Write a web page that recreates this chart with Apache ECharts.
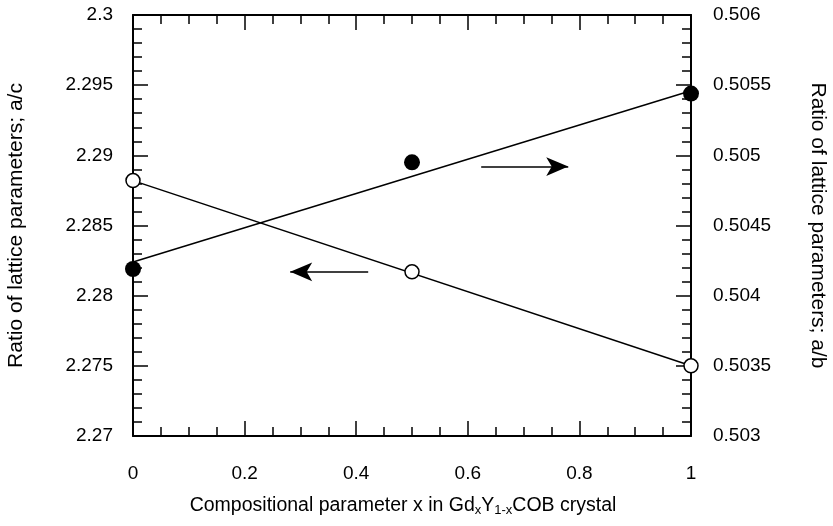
<!DOCTYPE html>
<html lang="en">
<head>
<meta charset="UTF-8">
<script src="https://cdn.jsdelivr.net/npm/echarts@6/dist/echarts.min.js"></script>
<title>Ratio of lattice parameters</title>
<style>
  *{margin:0;padding:0}
  html,body{width:100%;height:100%;background:#fff}
</style>
</head>
<body>
<div id="main" style="width:833px;height:526px"></div>
<script type="text/javascript">
// data
var xValues = [0, 0.5, 1];
var ratioAC = [2.2882, 2.2817, 2.2750];   // open circles, left axis
var ratioAB = [0.50419, 0.50495, 0.50544]; // filled circles, right axis
var fitX = [0, 1];
var fitAC = [2.2882, 2.2750];
var fitAB = [0.50424, 0.50546];
// arrows: [xStart, xEnd, y]
var arrowAC = [0.4215, 0.2817, 2.2817];
var arrowAB = [0.624, 0.78, 0.50492];
// axis ranges
var xRange = [0, 1, 0.2];
var leftRange = [2.27, 2.3, 0.005];
var rightRange = [0.503, 0.506, 0.0005];

function pairs(xs, ys){
  var out = [];
  for (var i = 0; i < xs.length; i++) out.push([xs[i], ys[i]]);
  return out;
}

var font = 'Liberation Sans, Arial, sans-serif';
var axisLine = {show:true, onZero:false, lineStyle:{color:'#000', width:2}};
var tick = {show:true, inside:true, length:15, lineStyle:{color:'#000', width:1.5}};
function minor(n){ return {show:true, splitNumber:n, length:9, lineStyle:{color:'#000', width:1.5}}; }
var lbl = {color:'#000', fontSize:19, fontFamily:font};

var chart = echarts.init(document.getElementById('main'));
var option = {
  animation:false,
  grid:{left:133, right:142, top:15, bottom:90, containLabel:false, outerBoundsMode:'none'},
  xAxis:[{
    type:'value', position:'bottom', min:xRange[0], max:xRange[1], interval:xRange[2],
    axisLine:axisLine, axisTick:tick, minorTick:minor(4), splitLine:{show:false},
    axisLabel:Object.assign({margin:28}, lbl),
    name:'Compositional parameter x in Gd{sub|x}Y{sub|1-x}COB crystal',
    nameLocation:'middle', nameGap:59,
    nameTextStyle:{color:'#000', fontSize:19.5, fontFamily:font, padding:[0,18,0,0],
      rich:{sub:{fontSize:13, fontFamily:font, color:'#000', verticalAlign:'bottom', padding:[9,0,0,0]}}}
  },{
    type:'value', position:'top', min:xRange[0], max:xRange[1], interval:xRange[2],
    axisLine:axisLine, axisTick:tick, minorTick:minor(4), splitLine:{show:false},
    axisLabel:{show:false}
  }],
  yAxis:[{
    type:'value', position:'left', min:leftRange[0], max:leftRange[1], interval:leftRange[2],
    axisLine:axisLine, axisTick:tick, minorTick:minor(5), splitLine:{show:false},
    axisLabel:Object.assign({margin:20}, lbl),
    name:'Ratio of lattice parameters; a/c', nameLocation:'middle', nameGap:106,
    nameTextStyle:{color:'#000', fontSize:21, fontFamily:font}
  },{
    type:'value', position:'right', min:rightRange[0], max:rightRange[1], interval:rightRange[2],
    axisLine:axisLine, axisTick:tick, minorTick:minor(5), splitLine:{show:false},
    axisLabel:Object.assign({margin:22}, lbl),
    name:'Ratio of lattice parameters; a/b', nameLocation:'middle', nameGap:116, nameRotate:-90,
    nameTextStyle:{color:'#000', fontSize:21, fontFamily:font}
  }],
  series:[{
    type:'line', xAxisIndex:0, yAxisIndex:0, data:pairs(fitX, fitAC), symbol:'none',
    lineStyle:{color:'#000', width:1.5}, z:2,
    markLine:{silent:true, symbol:['none','arrow'], symbolSize:[14,22],
      label:{show:false}, lineStyle:{color:'#000', width:1.5, type:'solid'},
      data:[[{coord:[arrowAC[0], arrowAC[2]]},{coord:[arrowAC[1], arrowAC[2]]}]]}
  },{
    type:'line', xAxisIndex:0, yAxisIndex:1, data:pairs(fitX, fitAB), symbol:'none',
    lineStyle:{color:'#000', width:1.5}, z:2,
    markLine:{silent:true, symbol:['none','arrow'], symbolSize:[14,22],
      label:{show:false}, lineStyle:{color:'#000', width:1.5, type:'solid'},
      data:[[{coord:[arrowAB[0], arrowAB[2]]},{coord:[arrowAB[1], arrowAB[2]]}]]}
  },{
    type:'scatter', xAxisIndex:0, yAxisIndex:0, data:pairs(xValues, ratioAC),
    symbol:'circle', symbolSize:14, z:3,
    itemStyle:{color:'#fff', borderColor:'#000', borderWidth:1.5, opacity:1}
  },{
    type:'scatter', xAxisIndex:0, yAxisIndex:1, data:pairs(xValues, ratioAB),
    symbol:'circle', symbolSize:16, z:3,
    itemStyle:{color:'#000', opacity:1}
  }]
};
chart.setOption(option);
</script>
</body>
</html>
